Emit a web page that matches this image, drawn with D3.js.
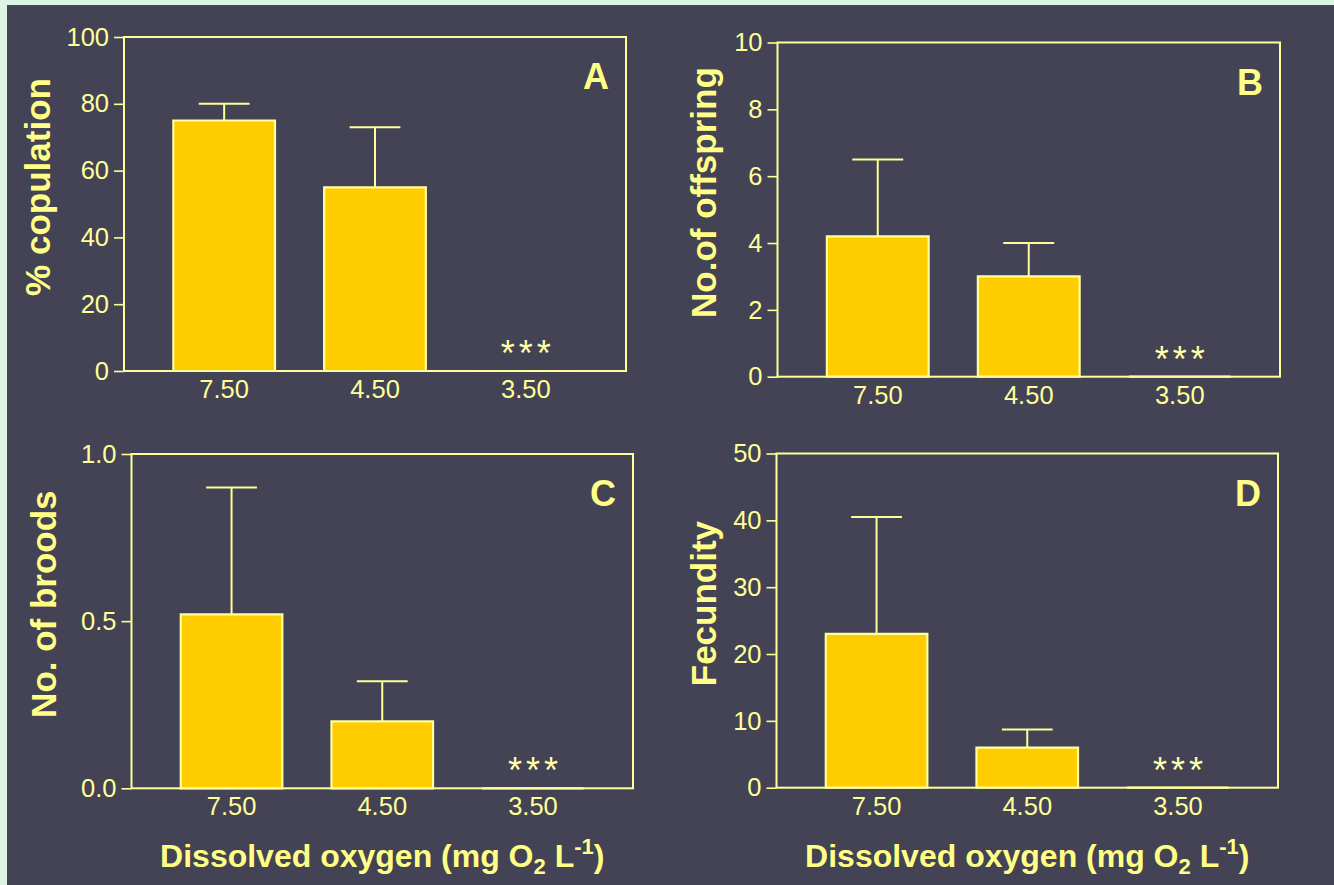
<!DOCTYPE html>
<html>
<head>
<meta charset="utf-8">
<script src="https://cdn.jsdelivr.net/npm/d3@7"></script>
<style>
  html, body { margin: 0; padding: 0; background: #dcf5e3; }
  svg { display: block; }
  text { font-family: "Liberation Sans", Arial, Helvetica, sans-serif; }
</style>
</head>
<body>
<svg id="chart" width="1334" height="885"></svg>
<script>
// Dissolved oxygen treatments (x categories)
const doLevels = ["7.50", "4.50", "3.50"];
const significance = ["", "", "***"];

// A: % copulation (mean, upper error)
const copulationMean = [75, 55, 0];
const copulationErr  = [5, 18, 0];
const copulationTicks = [0, 20, 40, 60, 80, 100];

// B: number of offspring
const offspringMean = [4.2, 3.0, 0];
const offspringErr  = [2.3, 1.0, 0];
const offspringTicks = [0, 2, 4, 6, 8, 10];

// C: number of broods
const broodsMean = [0.52, 0.20, 0];
const broodsErr  = [0.38, 0.12, 0];
const broodsTicks = [0.0, 0.5, 1.0];

// D: fecundity
const fecundityMean = [23, 6, 0];
const fecundityErr  = [17.5, 2.7, 0];
const fecundityTicks = [0, 10, 20, 30, 40, 50];

const yTitles = ["% copulation", "No.of offspring", "No. of broods", "Fecundity"];
const panelLetters = ["A", "B", "C", "D"];

const LINE = "#ffff99";
const TEXT = "#ffff99";
const TITLE = "#ffff88";
const BAR = "#ffcc00";
const BG = "#434355";

const svg = d3.select("#chart");
svg.append("rect").attr("x", 7).attr("y", 5).attr("width", 1334 - 7).attr("height", 885 - 5).attr("fill", BG);

const panels = [
  { mean: copulationMean, err: copulationErr, ticks: copulationTicks, fmt: d3.format("d"),
    box: { left: 124, top: 37, right: 626, bottom: 371 }, titleDx: -74 },
  { mean: offspringMean, err: offspringErr, ticks: offspringTicks, fmt: d3.format("d"),
    box: { left: 777.5, top: 42.5, right: 1280, bottom: 376.7 }, titleDx: -62 },
  { mean: broodsMean, err: broodsErr, ticks: broodsTicks, fmt: d3.format(".1f"),
    box: { left: 131.5, top: 454, right: 633, bottom: 788.3 }, titleDx: -76 },
  { mean: fecundityMean, err: fecundityErr, ticks: fecundityTicks, fmt: d3.format("d"),
    box: { left: 776.5, top: 453.5, right: 1278, bottom: 787.7 }, titleDx: -61 }
];

panels.forEach((p, i) => {
  const b = p.box;
  const w = b.right - b.left, h = b.bottom - b.top;
  const g = svg.append("g").attr("transform", `translate(${b.left},${b.top})`);

  const x = d3.scaleBand().domain(doLevels).range([0, w]).paddingInner(0.326).paddingOuter(0.327);
  const y = d3.scaleLinear().domain([p.ticks[0], p.ticks[p.ticks.length - 1]]).range([h, 0]);

  // frame
  g.append("rect").attr("x", 0).attr("y", 0).attr("width", w).attr("height", h)
    .attr("fill", "none").attr("stroke", LINE).attr("stroke-width", 2);

  // y axis
  const ya = g.append("g").call(d3.axisLeft(y).tickValues(p.ticks).tickFormat(p.fmt)
      .tickSize(10).tickSizeOuter(0).tickPadding(5));
  ya.select(".domain").remove();
  ya.selectAll(".tick line").attr("stroke", LINE).attr("stroke-width", 1.6);
  ya.selectAll(".tick text").attr("fill", TEXT).style("font-size", "25.5px")
    .style("font-family", '"Liberation Sans", Arial, sans-serif');

  // x axis labels
  const xa = g.append("g").attr("transform", `translate(0,${h})`)
    .call(d3.axisBottom(x).tickSize(0).tickPadding(9));
  xa.select(".domain").remove();
  xa.selectAll(".tick text").attr("fill", TEXT).style("font-size", "25.5px")
    .style("font-family", '"Liberation Sans", Arial, sans-serif');

  const rows = doLevels.map((c, k) => ({ c, m: p.mean[k], e: p.err[k], s: significance[k] }));

  // error bars (upper only)
  const eb = g.selectAll(".err").data(rows.filter(d => d.e > 0)).join("g");
  eb.append("line")
    .attr("x1", d => x(d.c) + x.bandwidth() / 2).attr("x2", d => x(d.c) + x.bandwidth() / 2)
    .attr("y1", d => y(d.m)).attr("y2", d => y(d.m + d.e))
    .attr("stroke", LINE).attr("stroke-width", 2);
  eb.append("line")
    .attr("x1", d => x(d.c) + x.bandwidth() / 4).attr("x2", d => x(d.c) + x.bandwidth() * 3 / 4)
    .attr("y1", d => y(d.m + d.e)).attr("y2", d => y(d.m + d.e))
    .attr("stroke", LINE).attr("stroke-width", 2);

  // bars drawn as closed paths so zero-height bars still show as a line
  g.selectAll(".bar").data(rows).join("path")
    .attr("d", d => {
      const x0 = x(d.c), x1 = x0 + x.bandwidth();
      return `M${x0},${y(0)}V${y(d.m)}H${x1}V${y(0)}Z`;
    })
    .attr("fill", BAR).attr("stroke", "#ffff9e").attr("stroke-width", 2.2);

  // significance marks
  g.selectAll(".sig").data(rows.filter(d => d.s)).join("text")
    .attr("x", d => x(d.c) + x.bandwidth() / 2 + 2)
    .attr("y", d => y(d.m) - 5)
    .attr("text-anchor", "middle")
    .style("font-size", "36px").style("letter-spacing", "4px")
    .attr("fill", "#ffffaa")
    .text(d => d.s);

  // panel letter
  g.append("text").attr("x", w - 17).attr("y", 52).attr("text-anchor", "end")
    .style("font-size", "36px").style("font-weight", "bold").attr("fill", TITLE)
    .text(panelLetters[i]);

  // y title
  g.append("text")
    .attr("transform", `translate(${p.titleDx},${h / 2 - 17}) rotate(-90)`)
    .attr("text-anchor", "middle")
    .style("font-size", "35px").style("font-weight", "bold").attr("fill", TITLE)
    .text(yTitles[i]);

  // x title under the bottom row
  if (i >= 2) {
    const t = g.append("text").attr("x", w / 2).attr("y", 866.7 - b.top)
      .attr("text-anchor", "middle")
      .style("font-size", "32px").style("font-weight", "bold").attr("fill", TITLE);
    t.append("tspan").text("Dissolved oxygen (mg O");
    t.append("tspan").attr("dy", 7).style("font-size", "22px").text("2");
    t.append("tspan").attr("dy", -7).text(" L");
    t.append("tspan").attr("dy", -13).style("font-size", "22px").text("-1");
    t.append("tspan").attr("dy", 13).text(")");
  }
});
</script>
</body>
</html>
